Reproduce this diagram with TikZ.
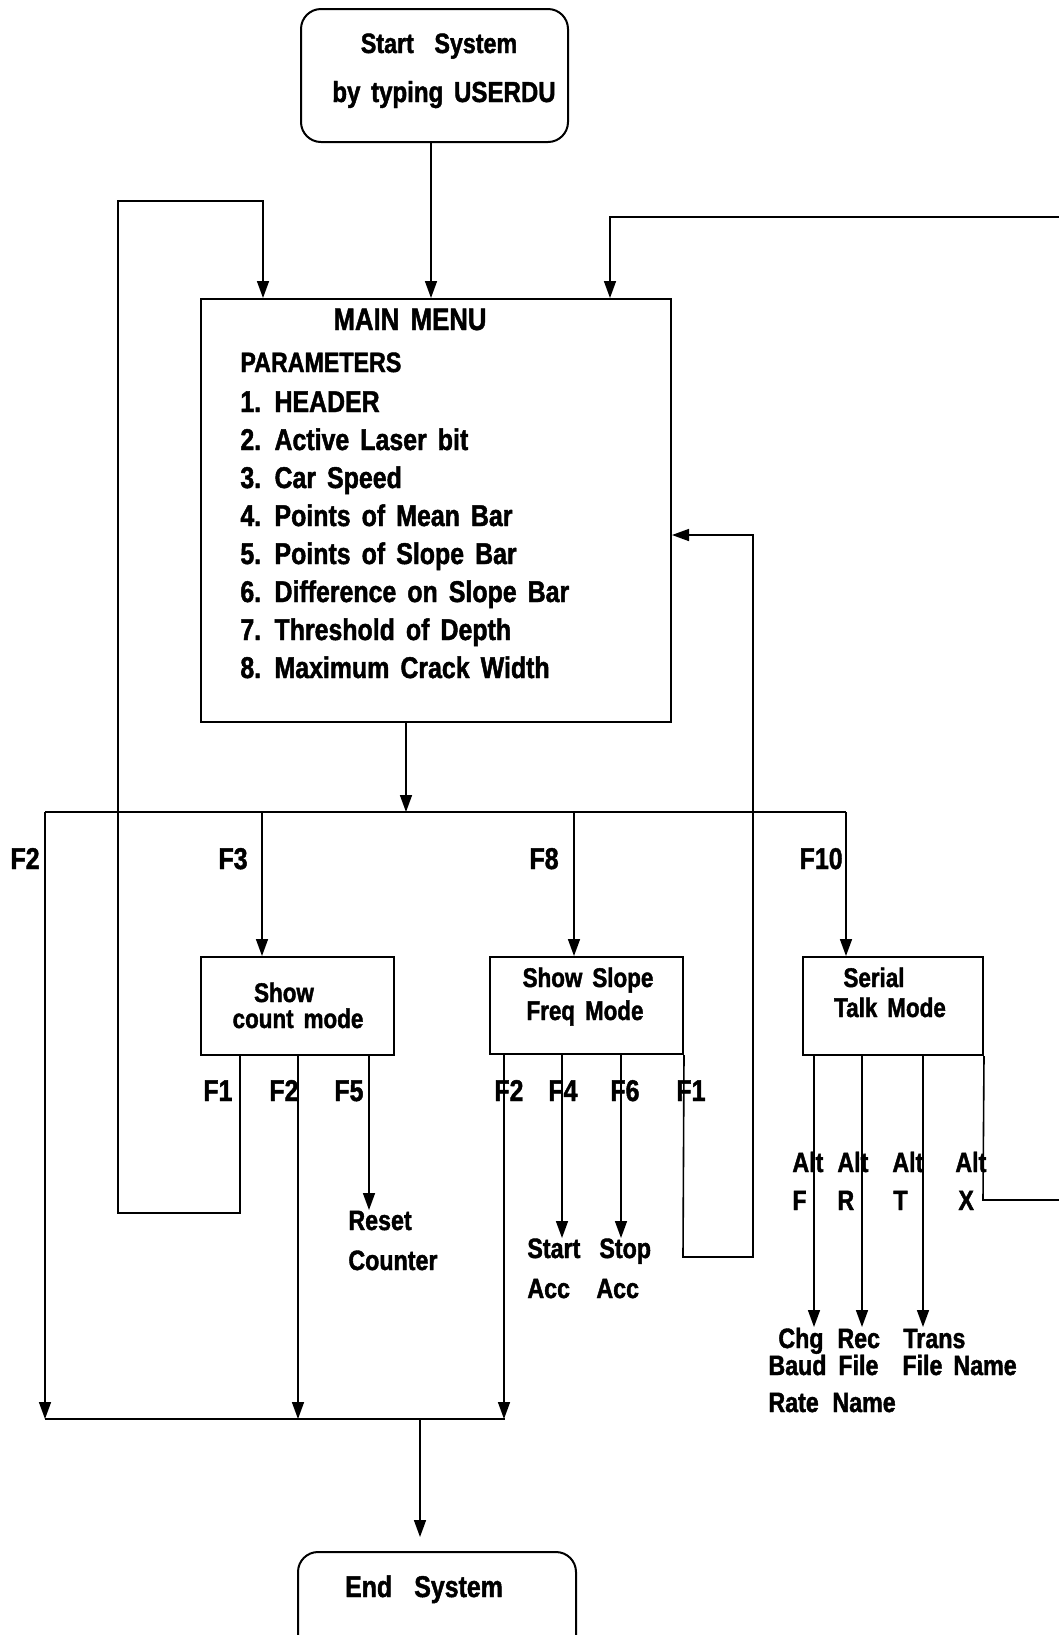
\documentclass[tikz,border=0pt]{standalone}
\usepackage{fontspec}
\newfontfamily\bff{Liberation Sans Bold}[FakeStretch=0.83, WordSpace=1.6, FakeBold=1.5]
\usetikzlibrary{arrows.meta}
\tikzset{
  boxst/.style={draw, line width=1pt, inner sep=0pt},
  termst/.style={boxst, rounded corners=10pt},
  conn/.style={line width=0.8pt},
  arr/.style={conn, -{Triangle[width=6pt,length=8.5pt]}},
  txt/.style={inner sep=0pt, font=\bff\fontsize{#1}{#1}\selectfont},
}
\begin{document}
\begin{tikzpicture}[x=0.5pt,y=-0.5pt]
\useasboundingbox (0,0) rectangle (1059,1635);
% boxes
\node[termst, minimum width=133.5pt, minimum height=66.5pt] (start) at (434.5,75.5) {};
\node[boxst, minimum width=235pt, minimum height=211.5pt] (main) at (436,510.5) {};
\node[boxst, minimum width=96.5pt, minimum height=49pt] (count) at (297.5,1006) {};
\node[boxst, minimum width=96.5pt, minimum height=48.5pt] (slope) at (586.5,1005.5) {};
\node[boxst, minimum width=90pt, minimum height=49pt] (serial) at (893,1006) {};
\node[termst, minimum width=139pt, minimum height=66.5pt] (endbox) at (437,1618.5) {};
% coordinates
\coordinate (xS) at (431,0);
\coordinate (L1) at (240,1213);
\coordinate (L2) at (118,1213);
\coordinate (L3) at (118,201);
\coordinate (L4) at (263,201);
\coordinate (R0) at (1059,217);
\coordinate (R1) at (610,217);
\coordinate (B0) at (45,812);
\coordinate (B1) at (846,812);
\coordinate (Bm) at (406,812);
\coordinate (BF3) at (262,812);
\coordinate (BF8) at (574,812);
\coordinate (D0) at (45,1419);
\coordinate (D1) at (505,1419);
\coordinate (De) at (420,1419);
\coordinate (C2) at (298,1419);
\coordinate (C5) at (369,1210);
\coordinate (S2) at (504,1419);
\coordinate (S4) at (562,1238);
\coordinate (S6) at (621,1238);
\coordinate (S1a) at (683,1257);
\coordinate (S1b) at (753,1257);
\coordinate (S1c) at (753,535);
\coordinate (T1) at (814,1327);
\coordinate (T2) at (862,1327);
\coordinate (T3) at (923,1327);
\coordinate (TX) at (983,1200);
\coordinate (TXe) at (1059,1200);
% connectors
\draw[arr] (start.south -| xS) -- (main.north -| xS);
\draw[arr] (count.south -| L1) -- (L1) -- (L2) -- (L3) -- (L4) -- (main.north -| L4);
\draw[arr] (R0) -- (R1) -- (main.north -| R1);
\draw[arr] (main.south -| Bm) -- (Bm);
\draw[conn] (B0) -- (B1);
\draw[arr] (B0) -- (D0);
\draw[arr] (BF3) -- (count.north -| BF3);
\draw[arr] (BF8) -- (slope.north -| BF8);
\draw[arr] (B1) -- (serial.north -| B1);
\draw[arr] (count.south -| C2) -- (C2);
\draw[arr] (count.south -| C5) -- (C5);
\draw[arr] (slope.south -| S2) -- (S2);
\draw[arr] (slope.south -| S4) -- (S4);
\draw[arr] (slope.south -| S6) -- (S6);
\draw[arr] (slope.south east) -- (S1a) -- (S1b) -- (S1c) -- (main.east |- S1c);
\draw[arr] (serial.south -| T1) -- (T1);
\draw[arr] (serial.south -| T2) -- (T2);
\draw[arr] (serial.south -| T3) -- (T3);
\draw[conn] (serial.south east) -- (TX) -- (TXe);
\draw[conn] (D0) -- (D1);
\draw[arr, shorten >=7pt] (De) -- (endbox.north -| De);
% texts
\node[txt=14, anchor=base] (ts1) at (439,53) {Start\ \ System};
\node[txt=14.5, anchor=base] (ts2) at (444,102) {by typing USERDU};
\node[txt=15.5, anchor=base] (mm) at (410,330) {MAIN MENU};
\node[txt=14, anchor=base west] (p0) at (240,372) {PARAMETERS};
\node[txt=15, anchor=base west] (p1) at (240,412) {1. HEADER};
\node[txt=15, anchor=base west] (p2) at (240,450) {2. Active Laser bit};
\node[txt=15, anchor=base west] (p3) at (240,488) {3. Car Speed};
\node[txt=15, anchor=base west] (p4) at (240,526) {4. Points of Mean Bar};
\node[txt=15, anchor=base west] (p5) at (240,564) {5. Points of Slope Bar};
\node[txt=15, anchor=base west] (p6) at (240,602) {6. Difference on Slope Bar};
\node[txt=15, anchor=base west] (p7) at (240,640) {7. Threshold of Depth};
\node[txt=15, anchor=base west] (p8) at (240,678) {8. Maximum Crack Width};
% key labels top
\node[txt=15, anchor=base east] (kF2) at (40,869) {F2};
\node[txt=15, anchor=base east] (kF3) at (248,869) {F3};
\node[txt=15, anchor=base east] (kF8) at (559,869) {F8};
\node[txt=15, anchor=base east] (kF10) at (843,869) {F10};
% box texts
\node[txt=13.5, anchor=base] (c1) at (284,1002) {Show};
\node[txt=13.5, anchor=base] (c2) at (298,1028) {count mode};
\node[txt=13.5, anchor=base] (s1) at (588,987) {Show Slope};
\node[txt=13.5, anchor=base] (s2) at (585,1020) {Freq Mode};
\node[txt=13.5, anchor=base] (r1) at (874,987) {Serial};
\node[txt=13.5, anchor=base] (r2) at (890,1017) {Talk Mode};
% key labels bottom
\node[txt=15, anchor=base west] (bF1) at (203,1101) {F1};
\node[txt=15, anchor=base west] (bF2) at (269,1101) {F2};
\node[txt=15, anchor=base west] (bF5) at (334,1101) {F5};
\node[txt=15, anchor=base west] (bG2) at (494,1101) {F2};
\node[txt=15, anchor=base west] (bG4) at (548,1101) {F4};
\node[txt=15, anchor=base west] (bG6) at (610,1101) {F6};
\node[txt=15, anchor=base west] (bG1) at (676,1101) {F1};
% alt labels
\node[txt=14, anchor=base west] (a1) at (792,1172) {Alt};
\node[txt=14, anchor=base west] (a2) at (837,1172) {Alt};
\node[txt=14, anchor=base west] (a3) at (892,1172) {Alt};
\node[txt=14, anchor=base west] (a4) at (955,1172) {Alt};
\node[txt=14, anchor=base west] (k1) at (792,1210) {F};
\node[txt=14, anchor=base west] (k2) at (837,1210) {R};
\node[txt=14, anchor=base west] (k3) at (893,1210) {T};
\node[txt=14, anchor=base west] (k4) at (958,1210) {X};
% results
\node[txt=14, anchor=base west] (re1) at (348,1230) {Reset};
\node[txt=14, anchor=base west] (re2) at (348,1270) {Counter};
\node[txt=14, anchor=base west] (sa1) at (527,1258) {Start};
\node[txt=14, anchor=base west] (sa2) at (527,1298) {Acc};
\node[txt=14, anchor=base west] (so1) at (599,1258) {Stop};
\node[txt=14, anchor=base west] (so2) at (596,1298) {Acc};
\node[txt=14, anchor=base west] (q1) at (778,1348) {Chg};
\node[txt=14, anchor=base west] (q2) at (837,1348) {Rec};
\node[txt=14, anchor=base west] (q3) at (903,1348) {Trans};
\node[txt=14, anchor=base west] (q4) at (768,1375) {Baud};
\node[txt=14, anchor=base west] (q5) at (838,1375) {File};
\node[txt=14, anchor=base west] (q6) at (902,1375) {File};
\node[txt=14, anchor=base west] (q7) at (953,1375) {Name};
\node[txt=14, anchor=base west] (q8) at (768,1412) {Rate};
\node[txt=14, anchor=base west] (q9) at (832,1412) {Name};
\node[txt=15, anchor=base] (te) at (424,1597) {End\ \ System};
\end{tikzpicture}
\end{document}
